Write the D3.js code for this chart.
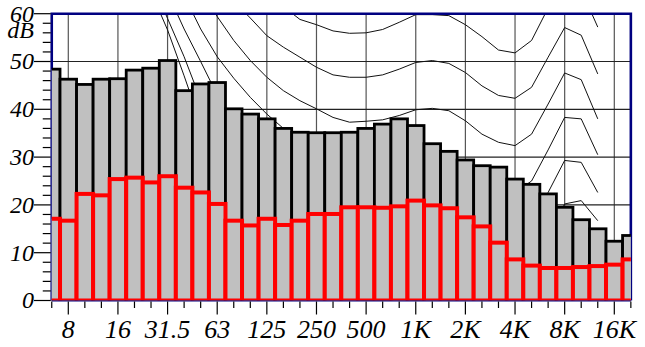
<!DOCTYPE html>
<html>
<head>
<meta charset="utf-8">
<script src="https://cdn.jsdelivr.net/npm/d3@7"></script>
<style>
  body { margin: 0; background: #fff; }
  text { font-family: "Liberation Serif", "DejaVu Serif", serif; font-style: italic; }
</style>
</head>
<body>
<div id="chart"></div>
<script>
// third octave bands (nominal Hz)
var bands = [6.3, 8, 10, 12.5, 16, 20, 25, 31.5, 40, 50, 63, 80, 100, 125, 160, 200, 250, 315, 400, 500,
             630, 800, 1000, 1250, 1600, 2000, 2500, 3150, 4000, 5000, 6300, 8000, 10000, 12500, 16000, 20000];
// grey spectrum (black outline)
var levelGrey = [48.4, 46.3, 45.2, 46.3, 46.4, 48.2, 48.6, 50.2, 43.9, 45.3, 45.6, 40.1, 39.0, 38.0, 36.0, 35.2, 35.1, 35.1, 35.2, 36.0,
                 36.9, 38.0, 36.6, 32.8, 31.2, 29.4, 28.2, 27.9, 25.4, 24.3, 22.3, 19.5, 16.9, 15.0, 12.4, 13.6];
// red spectrum
var levelRed = [17.1, 16.7, 22.3, 22.0, 25.4, 25.7, 24.7, 26.0, 23.6, 22.6, 20.2, 16.7, 15.7, 17.1, 15.8, 16.7, 18.1, 18.1, 19.5, 19.5,
                19.4, 19.7, 20.9, 19.9, 19.3, 17.4, 15.5, 12.1, 8.6, 7.3, 6.8, 6.8, 7.0, 7.2, 7.5, 8.6];

// contour curves
var curveFreqs = [16, 20, 25, 31.5, 40, 50, 63, 80, 100, 125, 160, 200, 250, 315, 400, 500, 630, 800, 1000, 1250,
                  1600, 2000, 2500, 3150, 4000, 5000, 6300, 8000, 10000, 12500];
var curve60 = [null, null, null, null, null, null, null, null, null, null, 61.5, 58.8, 57.7, 56.4, 55.9, 56.0, 56.7, 58.2, 59.8, 59.8,
               59.6, 57.7, 55.2, 52.4, 51.8, 54.4, 61.2, 67.0, 65.0, 57.2];
var curve50 = [null, null, null, null, null, null, null, 62.6, 59.1, 55.4, 53.0, 50.9, 48.8, 47.2, 46.7, 46.7, 47.2, 48.4, 49.8, 50.2,
               49.6, 47.7, 44.9, 42.9, 42.3, 44.6, 50.9, 57.1, 55.5, 47.4];
var curve40 = [null, null, null, null, null, 66.0, 59.4, 54.4, 50.2, 46.7, 43.9, 41.8, 40.1, 38.3, 37.3, 37.5, 37.8, 38.7, 39.9, 40.2,
               39.7, 37.6, 34.8, 33.1, 32.4, 34.8, 41.1, 47.6, 46.2, 38.0];
var curve30 = [null, null, null, null, 63.8, 56.8, 51.0, 46.5, 42.5, 39.0, 36.0, 33.5, 31.5, 30.0, 28.8, 28.5, 28.6, 29.2, 30.0, 30.3,
               29.8, 27.8, 25.0, 23.3, 22.6, 25.0, 31.5, 38.3, 38.0, 30.5];
var curve20 = [null, null, null, 64.4, 56.8, 50.0, 43.0, 37.0, 32.0, 28.0, 25.0, 23.0, 21.5, 20.2, 19.0, 18.7, 18.8, 19.3, 20.0, 20.3,
               19.8, 17.8, 15.0, 13.3, 12.8, 15.5, 22.6, 29.3, 28.9, 22.6];
var curve10 = [null, null, 67.0, 59.0, 51.0, 42.0, 34.0, 27.0, 22.0, 17.5, 14.5, 12.5, 11.0, 10.0, 9.0, 8.7, 8.8, 9.3, 10.0, 10.3,
               9.8, 7.8, 5.2, 3.5, 3.0, 6.0, 13.5, 20.2, 20.9, 16.7];
var curve0 = [null, null, 64.6, 56.6, 47.0, 37.0, 28.0, 20.0, 14.0, 9.5, 6.0, 3.5, 2.0, 1.0, 0.3, 0.0, 0.0, 0.3, 0.0, 0.3,
              0.0, -2.0, -4.5, -6.0, -6.5, -3.5, 3.5, 10.5, 11.5, 7.5];
var curves = [curve60, curve50, curve40, curve30, curve20, curve10, curve0];

var tickFreqs = [8, 16, 31.5, 63, 125, 250, 500, 1000, 2000, 4000, 8000, 16000];
var tickLabels = ["8", "16", "31.5", "63", "125", "250", "500", "1K", "2K", "4K", "8K", "16K"];
var yTicks = [0, 10, 20, 30, 40, 50, 60];

var width = 645, height = 347;
var plotLeft = 51.75, plotRight = 630.85, plotTop = 13.7, plotBottom = 300.5;

// nominal -> exact base-2 third octave centre
function exact(f) {
    return 1000 * Math.pow(2, Math.round(3 * Math.log2(f / 1000)) / 3);
}

var x = d3.scaleLog()
    .domain([exact(6.3), exact(20000)])
    .range([plotLeft, plotRight]);
var y = d3.scaleLinear()
    .domain([0, 60])
    .range([plotBottom, plotTop]);

var svg = d3.select("#chart").append("svg")
    .attr("width", width)
    .attr("height", height);

svg.append("defs").append("clipPath")
    .attr("id", "plotClip")
    .append("rect")
    .attr("x", plotLeft)
    .attr("y", plotTop)
    .attr("width", plotRight - plotLeft)
    .attr("height", plotBottom - plotTop);

var plot = svg.append("g").attr("clip-path", "url(#plotClip)");

// grid
plot.selectAll(".vgrid")
    .data(tickFreqs)
    .enter().append("line")
    .attr("class", "vgrid")
    .attr("x1", d => x(exact(d)))
    .attr("x2", d => x(exact(d)))
    .attr("y1", plotTop)
    .attr("y2", plotBottom)
    .attr("stroke", "#555")
    .attr("stroke-width", 1.2);

plot.selectAll(".hgrid")
    .data(yTicks.slice(1, 6))
    .enter().append("line")
    .attr("class", "hgrid")
    .attr("x1", plotLeft)
    .attr("x2", plotRight)
    .attr("y1", d => y(d))
    .attr("y2", d => y(d))
    .attr("stroke", "#222")
    .attr("stroke-width", 1.2);

// contours
var line = d3.line()
    .defined(d => d[1] !== null)
    .x(d => x(exact(d[0])))
    .y(d => y(d[1]));

plot.selectAll(".curve")
    .data(curves)
    .enter().append("path")
    .attr("class", "curve")
    .attr("d", c => line(curveFreqs.map((f, i) => [f, c[i]])))
    .attr("fill", "none")
    .attr("stroke", "#111")
    .attr("stroke-width", 1);

// frame
svg.append("path")
    .attr("d", "M" + plotLeft + "," + plotBottom + "V" + plotTop + "H" + plotRight + "V" + plotBottom)
    .attr("fill", "none")
    .attr("stroke", "#000080")
    .attr("stroke-width", 2.6);

// bars
function bandRect(sel) {
    sel.attr("x", (d, i) => x(exact(bands[i]) * Math.pow(2, -1 / 6)))
        .attr("width", (d, i) => x(exact(bands[i]) * Math.pow(2, 1 / 6)) - x(exact(bands[i]) * Math.pow(2, -1 / 6)))
        .attr("y", d => y(d))
        .attr("height", d => y(0) - y(d));
}

var bars = svg.append("g").attr("clip-path", "url(#plotClip)");

bars.selectAll(".grey")
    .data(levelGrey)
    .enter().append("rect")
    .attr("class", "grey")
    .call(bandRect)
    .attr("fill", "#c0c0c0")
    .attr("stroke", "#000")
    .attr("stroke-width", 2.8);

bars.selectAll(".red")
    .data(levelRed)
    .enter().append("rect")
    .attr("class", "red")
    .call(bandRect)
    .attr("fill", "#c0c0c0")
    .attr("stroke", "#ff0000")
    .attr("stroke-width", 4);

// bottom axis line
svg.append("line")
    .attr("x1", plotLeft)
    .attr("x2", plotRight)
    .attr("y1", plotBottom + 0.5)
    .attr("y2", plotBottom + 0.5)
    .attr("stroke", "#000080")
    .attr("stroke-width", 1);

// x ticks
svg.selectAll(".xtick")
    .data(bands)
    .enter().append("line")
    .attr("class", "xtick")
    .attr("x1", d => x(exact(d)))
    .attr("x2", d => x(exact(d)))
    .attr("y1", plotBottom + 1)
    .attr("y2", d => plotBottom + 1 + (tickFreqs.indexOf(d) >= 0 ? 13 : 6.5))
    .attr("stroke", "#000")
    .attr("stroke-width", 1.2);

svg.selectAll(".xlabel")
    .data(tickFreqs)
    .enter().append("text")
    .attr("class", "xlabel")
    .attr("x", d => x(exact(d)))
    .attr("y", 338)
    .attr("text-anchor", "middle")
    .style("font-size", "26px")
    .text((d, i) => tickLabels[i]);

// y ticks
var yMinor = d3.range(0, 61, 2).filter(v => v % 10 !== 0);
svg.selectAll(".yminor")
    .data(yMinor)
    .enter().append("line")
    .attr("class", "yminor")
    .attr("x1", plotLeft - 9)
    .attr("x2", plotLeft - 1)
    .attr("y1", d => y(d))
    .attr("y2", d => y(d))
    .attr("stroke", "#000")
    .attr("stroke-width", 1.2);

svg.selectAll(".ymajor")
    .data(yTicks)
    .enter().append("line")
    .attr("class", "ymajor")
    .attr("x1", 34)
    .attr("x2", plotLeft - 1)
    .attr("y1", d => y(d))
    .attr("y2", d => y(d))
    .attr("stroke", "#000")
    .attr("stroke-width", 1.2);

svg.selectAll(".ylabel")
    .data(yTicks)
    .enter().append("text")
    .attr("class", "ylabel")
    .attr("x", 34)
    .attr("y", d => y(d))
    .attr("dy", "0.33em")
    .attr("text-anchor", "end")
    .style("font-size", "24px")
    .text(d => d);

svg.append("text")
    .attr("x", 34)
    .attr("y", 38)
    .attr("text-anchor", "end")
    .style("font-size", "24px")
    .text("dB");
</script>
</body>
</html>
